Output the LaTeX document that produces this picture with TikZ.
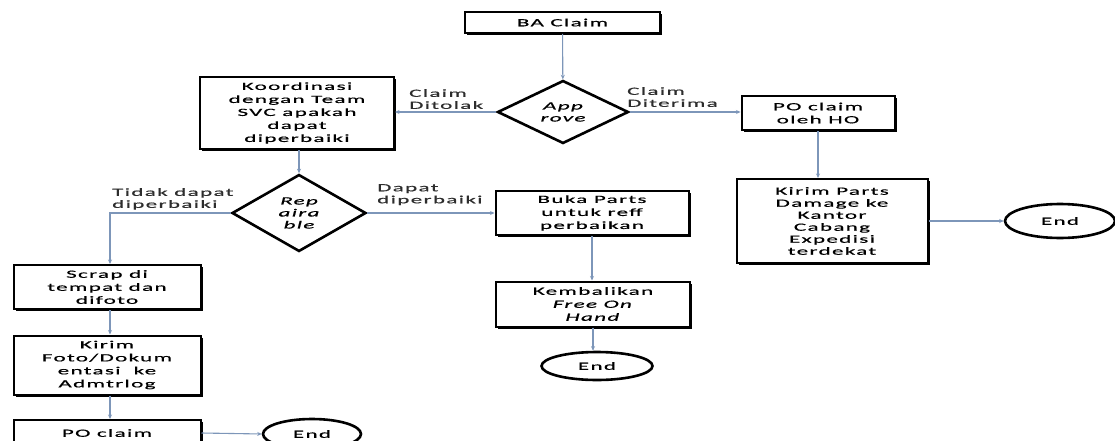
\documentclass[tikz,border=0pt]{standalone}
\usepackage{fontspec}
\setmainfont{Carlito}[FakeStretch=2.1, LetterSpace=12, FakeBold=0.6]
\usetikzlibrary{shapes.geometric,arrows.meta,shadows}
\definecolor{arrowc}{RGB}{125,150,185}
\definecolor{labelc}{RGB}{45,45,45}
\begin{document}
\begin{tikzpicture}[x=1pt,y=-1pt,
 font=\fontsize{11}{13}\selectfont,
 box/.style={draw, fill=white, line width=2pt, align=center, inner sep=0pt,
   drop shadow={shadow xshift=2.4pt, shadow yshift=-2.4pt, opacity=1, fill=black}},
 dec/.style={diamond, draw, line width=2.6pt, align=center, inner sep=0pt,
   font=\fontsize{11}{12}\selectfont\itshape},
 term/.style={ellipse, draw, line width=2.6pt, inner sep=0pt},
 conn/.style={draw=arrowc, line width=1.1pt, -{Stealth[length=4.5pt,width=4pt]}},
 lbl/.style={anchor=north west, align=left, inner sep=0pt, text=labelc,
   font=\fontsize{11}{12}\selectfont}]
\useasboundingbox (0,0) rectangle (1115,441);
\clip (0,0) rectangle (1115,441);

\node[box, minimum width=195pt, minimum height=21pt] (ba) at (562.5,22.5) {BA Claim};
\node[dec, minimum width=131pt, minimum height=63pt, shape aspect=2] (app) at (563,112) {App\\rove};
\node[box, minimum width=194pt, minimum height=72pt] (koor) at (297,113) {Koordinasi\\dengan Team\\SVC apakah\\dapat\\diperbaiki};
\node[box, minimum width=153pt, minimum height=34pt] (poho) at (818,113) {PO claim\\oleh HO};
\node[box, minimum width=191pt, minimum height=84pt, font=\fontsize{11}{12}\selectfont] (kirimp) at (832,221) {Kirim Parts\\Damage ke\\Kantor\\Cabang\\Expedisi\\terdekat};
\node[term, minimum width=110pt, minimum height=34pt] (end1) at (1060,221) {End};
\node[dec, minimum width=134pt, minimum height=77pt, shape aspect=1.75] (rep) at (299,213) {Rep\\aira\\ble};
\node[box, minimum width=193pt, minimum height=44pt] (buka) at (592,213) {Buka Parts\\untuk reff\\perbaikan};
\node[box, minimum width=194pt, minimum height=45pt] (kemb) at (593,304) {Kembalikan\\\textit{Free On}\\\textit{Hand}};
\node[term, minimum width=111pt, minimum height=28pt] (end2) at (597,366) {End};
\node[box, minimum width=187pt, minimum height=44pt] (scrap) at (107,287) {Scrap di\\tempat dan\\difoto};
\node[box, minimum width=187pt, minimum height=59pt] (foto) at (107,365) {Kirim\\Foto/Dokum\\entasi\ \ ke\\Admtrlog};
\node[box, minimum width=187pt, minimum height=26pt] (po) at (107,433) {PO claim};
\node[term, minimum width=98pt, minimum height=30pt] (end3) at (312,434) {End};

\draw[conn] (ba) -- (app);
\draw[conn] (app.west) -- (app.west -| koor.east);
\draw[conn] (app.east) -- (app.east -| poho.west);
\draw[conn] (poho.south) -- (poho.south |- kirimp.north);
\draw[conn] (kirimp.east) -- (end1.west);
\draw[conn] (rep.north |- koor.south) -- (rep.north);
\draw[conn] (rep.west) -| ([xshift=3pt]scrap.north);
\draw[conn] (rep.east) -- (rep.east -| buka.west);
\draw[conn] (buka.south) -- (buka.south |- kemb.north);
\draw[conn] (kemb.south) -- (kemb.south |- end2.north);
\draw[conn] ([xshift=3pt]scrap.south) -- ([xshift=3pt]foto.north);
\draw[conn] ([xshift=3pt]foto.south) -- ([xshift=3pt]po.north);
\draw[conn] (po.east) -- (end3.west);

\node[lbl] (l1) at (409,89) {Claim\\Ditolak};
\node[lbl] (l2) at (627,87) {Claim\\Diterima};
\node[lbl] (l3) at (112,188) {Tidak dapat\\diperbaiki};
\node[lbl] (l4) at (377,184) {Dapat\\diperbaiki};
\end{tikzpicture}
\end{document}
